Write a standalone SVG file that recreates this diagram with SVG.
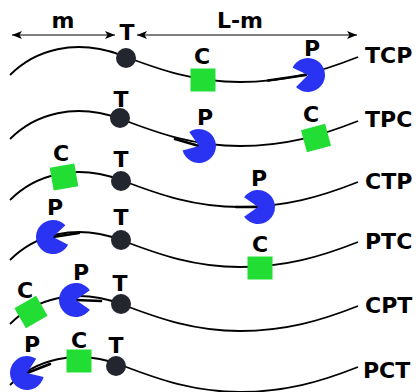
<svg xmlns="http://www.w3.org/2000/svg" xmlns:xlink="http://www.w3.org/1999/xlink" width="416" height="392" viewBox="0 0 416 392">
<style>
  .lbl{font-family:"DejaVu Sans","Liberation Sans",sans-serif;font-weight:bold;font-size:22px;fill:#000;text-anchor:middle}
  .row{font-family:"DejaVu Sans","Liberation Sans",sans-serif;font-weight:bold;font-size:22px;fill:#000}
  .curve{fill:none;stroke:#000;stroke-width:1.8}
  .arm{stroke:#000;stroke-width:2.6;stroke-linecap:round}
  .dim{stroke:#000;stroke-width:1.2;fill:none}
  .t{fill:#23252f}
  .c{fill:#22dd33}
  .p{fill:#2a33f2}
</style>
<defs>
  <marker id="ah" viewBox="0 0 10 8" refX="10" refY="4" markerWidth="10" markerHeight="8" orient="auto-start-reverse" markerUnits="userSpaceOnUse">
    <path d="M0,0 L10,4 L0,8 L2.5,4 Z" fill="#000"/>
  </marker>
  <path id="wave" d="M10,75 C35,50 75,38 121,55 C160,70 195,82 240,82 C285,82 320,72 358,57"/>
  <path id="pac" d="M0,0 L13.9,-9.8 A17,17 0 1,0 13.9,9.8 Z"/>
  <rect id="sq" x="-12.5" y="-11.5" width="25" height="23"/>
</defs>

<g id="connectors">
  <line class="dim" x1="12" y1="35" x2="115" y2="35" marker-start="url(#ah)" marker-end="url(#ah)"/>
  <line class="dim" x1="137" y1="35" x2="357" y2="35" marker-start="url(#ah)" marker-end="url(#ah)"/>
  <use xlink:href="#wave" class="curve"/>
  <use xlink:href="#wave" class="curve" transform="translate(0,64)"/>
  <use xlink:href="#wave" class="curve" transform="translate(0,125)"/>
  <use xlink:href="#wave" class="curve" transform="translate(0,185)"/>
  <use xlink:href="#wave" class="curve" transform="translate(0,249)"/>
  <use xlink:href="#wave" class="curve" transform="translate(0,310)"/>
  <line class="arm" x1="268" y1="80.5" x2="306" y2="75"/>
  <line class="arm" x1="175" y1="139" x2="199" y2="146"/>
  <line class="arm" x1="236" y1="207" x2="258" y2="207"/>
  <line class="arm" x1="53" y1="237" x2="79" y2="233"/>
  <line class="arm" x1="76" y1="300" x2="101" y2="301"/>
  <line class="arm" x1="27" y1="373" x2="50" y2="364"/>
</g>

<text class="lbl" x="63" y="28">m</text>
<text class="lbl" x="240" y="28">L-m</text>

<!-- Row 1 TCP -->
<g id="r1-T"><circle class="t" cx="126" cy="58" r="10"/><text class="lbl" x="127" y="40">T</text></g>
<g id="r1-C"><use xlink:href="#sq" class="c" transform="translate(203,80)"/><text class="lbl" x="202" y="64">C</text></g>
<g id="r1-P"><use xlink:href="#pac" class="p" transform="translate(308,75) rotate(170)"/><text class="lbl" x="312" y="56">P</text></g>
<text class="row" x="365" y="63">TCP</text>

<!-- Row 2 TPC -->
<g id="r2-T"><circle class="t" cx="120" cy="118" r="10"/><text class="lbl" x="121" y="107">T</text></g>
<g id="r2-P"><use xlink:href="#pac" class="p" transform="translate(199,146) rotate(200)"/><text class="lbl" x="205" y="125">P</text></g>
<g id="r2-C"><use xlink:href="#sq" class="c" transform="translate(316,138) rotate(-15)"/><text class="lbl" x="311" y="122">C</text></g>
<text class="row" x="365" y="127">TPC</text>

<!-- Row 3 CTP -->
<g id="r3-C"><use xlink:href="#sq" class="c" transform="translate(64,177) rotate(-10)"/><text class="lbl" x="61" y="161">C</text></g>
<g id="r3-T"><circle class="t" cx="121" cy="181" r="10"/><text class="lbl" x="121" y="167">T</text></g>
<g id="r3-P"><use xlink:href="#pac" class="p" transform="translate(258,207) rotate(180)"/><text class="lbl" x="259" y="186">P</text></g>
<text class="row" x="365" y="189">CTP</text>

<!-- Row 4 PTC -->
<g id="r4-P"><use xlink:href="#pac" class="p" transform="translate(53,237) rotate(-8)"/><text class="lbl" x="55" y="215">P</text></g>
<g id="r4-T"><circle class="t" cx="121" cy="240" r="10"/><text class="lbl" x="121" y="225">T</text></g>
<g id="r4-C"><use xlink:href="#sq" class="c" transform="translate(260,268)"/><text class="lbl" x="260" y="252">C</text></g>
<text class="row" x="365" y="249">PTC</text>

<!-- Row 5 CPT -->
<g id="r5-C"><use xlink:href="#sq" class="c" transform="translate(31,312) rotate(-30)"/><text class="lbl" x="25" y="298">C</text></g>
<g id="r5-P"><use xlink:href="#pac" class="p" transform="translate(76,300)"/><text class="lbl" x="81" y="280">P</text></g>
<g id="r5-T"><circle class="t" cx="121" cy="304" r="10"/><text class="lbl" x="120" y="291">T</text></g>
<text class="row" x="365" y="313">CPT</text>

<!-- Row 6 PCT -->
<g id="r6-P"><use xlink:href="#pac" class="p" transform="translate(27,373) rotate(-22)"/><text class="lbl" x="32" y="352">P</text></g>
<g id="r6-C"><use xlink:href="#sq" class="c" transform="translate(79,361)"/><text class="lbl" x="79" y="348">C</text></g>
<g id="r6-T"><circle class="t" cx="116" cy="366" r="10"/><text class="lbl" x="116" y="353">T</text></g>
<text class="row" x="363" y="378">PCT</text>
</svg>
